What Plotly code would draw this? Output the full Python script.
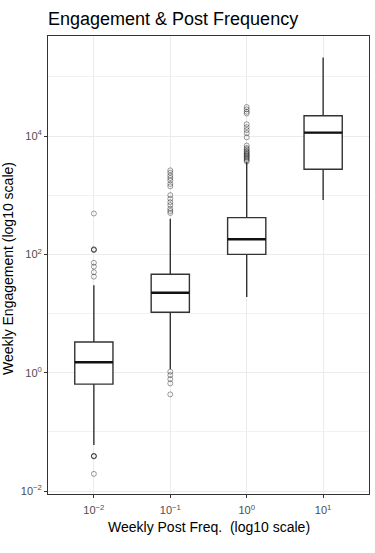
import numpy as np
import plotly.graph_objects as go

# ---- data ----
post_freq = [0.01, 0.1, 1, 10]                       # weekly posts (x, log10 scale)
q1 = [0.64, 10.5, 100, 2750]
median = [1.5, 22.5, 180, 11400]
q3 = [3.3, 46, 417, 22000]
lower_whisker = [0.06, 1.15, 19, 830]
upper_whisker = [30, 400, 3600, 213000]

outliers = [
    [490, 120, 118, 122, 72, 62, 50, 42, 0.039, 0.0385, 0.0392, 0.0195],
    [2630, 2400, 2140, 1950, 1780, 1550, 1410, 1000, 870, 760, 680, 590, 540, 500,
     1.04, 0.91, 0.78, 0.66, 0.43],
    [30900, 28200, 25700, 24000, 15800, 14100, 12600, 11200, 9500,
     6900, 6300, 6000, 5600, 5400, 5100, 4900, 4700, 4500, 4300, 4100, 3900, 3700],
    [],
]

x_tick_vals = [-2, -1, 0, 1]
x_tick_text = ["10<sup>−2</sup>", "10<sup>−1</sup>", "10<sup>0</sup>", "10<sup>1</sup>"]
y_tick_vals = [0.01, 1, 100, 10000]
y_tick_text = ["10<sup>−2</sup>", "10<sup>0</sup>", "10<sup>2</sup>", "10<sup>4</sup>"]
y_minor_vals = [0.1, 10, 1000, 100000]

pos = np.log10(post_freq)
box_w = 0.5
FONT = "Liberation Sans, Arial, Helvetica, sans-serif"

fig = go.Figure()

fig.add_trace(go.Box(
    x=pos, q1=q1, median=median, q3=q3,
    lowerfence=lower_whisker, upperfence=upper_whisker,
    width=box_w, boxpoints=False,
    fillcolor="white",
    line=dict(color="#333333", width=1.4),
    whiskerwidth=0,
    showlegend=False, hoverinfo="skip",
))

# thicker median lines (ggplot style)
mx, my = [], []
for p, m in zip(pos, median):
    mx += [p - box_w / 2, p + box_w / 2, None]
    my += [m, m, None]
fig.add_trace(go.Scatter(x=mx, y=my, mode="lines",
                         line=dict(color="#111111", width=2.4),
                         showlegend=False, hoverinfo="skip"))

ox, oy = [], []
for p, outs in zip(pos, outliers):
    ox += [p] * len(outs)
    oy += outs
fig.add_trace(go.Scatter(x=ox, y=oy, mode="markers",
                         marker=dict(symbol="circle-open", size=5,
                                     color="rgba(0,0,0,0.38)",
                                     line=dict(width=1)),
                         showlegend=False, hoverinfo="skip"))

fig.update_layout(
    width=375, height=553,
    margin=dict(l=48, r=6, t=36, b=59),
    paper_bgcolor="white", plot_bgcolor="white",
    font=dict(family=FONT, color="black"),
    title=dict(text="Engagement & Post Frequency", x=0, xanchor="left",
               xref="paper", y=1 - 18.5 / 553, yanchor="middle",
               yref="container", font=dict(size=18, color="black")),
    xaxis=dict(
        range=[-2.6, 1.6], tickmode="array", tickvals=x_tick_vals, ticktext=x_tick_text,
        showgrid=True, gridcolor="#ebebeb", gridwidth=1.2, zeroline=False,
        ticks="outside", ticklen=3, tickcolor="#333333",
        tickfont=dict(size=11, color="#4d4d4d"), ticklabelstandoff=3,
        showline=True, mirror=True, linecolor="#333333", linewidth=1,
    ),
    yaxis=dict(
        type="log", range=[-2.05, 5.69], tickmode="array",
        tickvals=y_tick_vals, ticktext=y_tick_text,
        showgrid=True, gridcolor="#ebebeb", gridwidth=1.2, zeroline=False,
        ticks="outside", ticklen=3, tickcolor="#333333",
        tickfont=dict(size=11, color="#4d4d4d"),
        showline=True, mirror=True, linecolor="#333333", linewidth=1,
        minor=dict(tickvals=y_minor_vals, showgrid=True, gridcolor="#f2f2f2",
                   gridwidth=0.8, ticks=""),
    ),
    annotations=[
        dict(text="Weekly Post Freq. \u00a0(log10 scale)", xref="paper", yref="paper",
             x=0.5, y=-32.7 / 458, xanchor="center", yanchor="middle",
             showarrow=False, font=dict(size=14, color="black")),
        dict(text="Weekly Engagement (log10 scale)", xref="paper", yref="paper",
             x=-40 / 321, y=0.5 - 4 / 458, xanchor="center", yanchor="middle",
             textangle=-90, showarrow=False, font=dict(size=14, color="black")),
    ],
)

fig.write_html("out.html", config={"displayModeBar": False},
               post_script="document.body.style.margin='0';document.body.style.padding='0';")
